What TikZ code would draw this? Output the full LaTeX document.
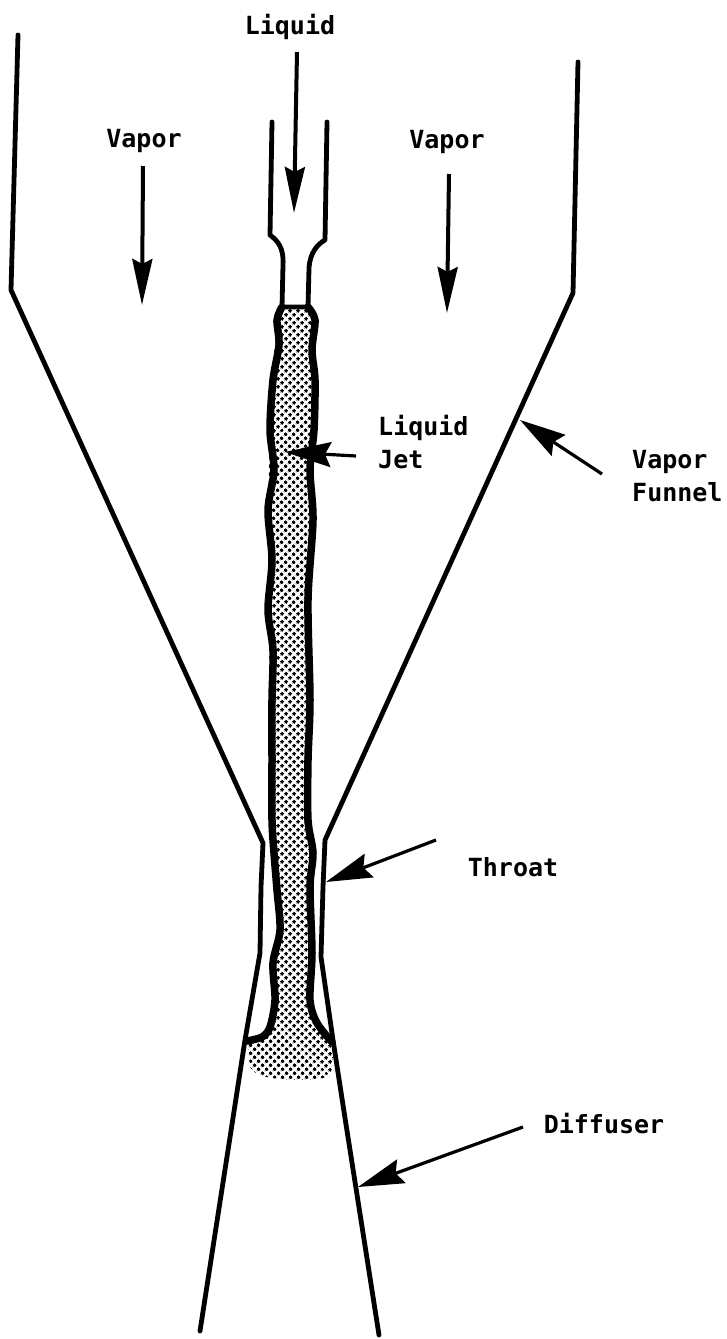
\documentclass[tikz,border=0pt]{standalone}
\usepackage{fontspec}
\setmonofont{DejaVu Sans Mono}
\usetikzlibrary{arrows.meta,patterns.meta,positioning}

\begin{document}
\begin{tikzpicture}[x=1pt, y=-1pt,
    label_txt/.style={font=\ttfamily\bfseries\fontsize{25}{33}\selectfont, align=left, inner sep=0pt},
    wall/.style={draw, line width=4.8pt, line join=round, line cap=round},
    jet_edge/.style={draw, line width=7.5pt, line join=round, line cap=round},
    flow/.style={draw, line width=4pt, -{Stealth[length=46pt, width=20pt, inset=5pt]}},
    pointer/.style={draw, line width=3.2pt, -{Stealth[length=46pt, width=25pt, inset=6pt]}}]
    \useasboundingbox (0,0) rectangle (726,1339);

    % liquid jet
    \fill [pattern={Dots[distance=5.4pt, angle=45, radius=1.85pt]}, pattern color=black]
        (282,307) -- (277,320) -- (272,380) -- (270,430) -- (268,510) -- (268,610) -- (272,760) -- (274,853) -- (280,930)
        -- (273,963) -- (275,1000) -- (270,1027) -- (262,1037) -- (247,1040) -- (250,1067) .. controls (256,1078) and (280,1080) .. (300,1080)
        .. controls (315,1080) and (328,1078) .. (331,1075) -- (334,1050) -- (317,1023) -- (310,1000) -- (312,953) -- (310,887) -- (313,853)
        -- (308,820) -- (310,700) -- (308,600) -- (313,520) -- (314,430) -- (315,380) -- (312,350) -- (315,320) -- (308,307) -- cycle;
    \path [jet_edge] plot [smooth, tension=0.5] coordinates {(282,307) (277,320) (279,345) (273,380) (270,430) (274,470) (268,510) (272,560) (268,610) (273,650) (272,700) (272,760) (272,820) (274,853) (277,890) (280,930) (273,963) (275,1000) (270,1027) (262,1037) (247,1041)};
    \path [jet_edge] plot [smooth, tension=0.5] coordinates {(308,307) (315,320) (312,350) (315,380) (314,430) (310,470) (313,520) (308,600) (310,700) (308,760) (308,820) (313,853) (310,887) (312,953) (310,1000) (317,1023) (332,1042)};

    % funnel and diffuser
    \path [wall] (18,35) -- (11,290) -- (263,843) -- (261,887) -- (260,953) -- (245,1040) -- (233,1118) -- (200,1331);
    \path [wall] (578,62) -- (573,293) -- (325,840) -- (323,887) -- (321,957) -- (333,1040) -- (345,1118) -- (379,1335);

    % nozzle
    \path [wall] (272,122) -- (270,235) .. controls (278,241) and (284,248) .. (283,265) -- (282,307) -- (308,307) -- (309,268) .. controls (310,252) and (318,244) .. (325,240) -- (327,122);

    \node [label_txt] (liq) at (290,27) {Liquid};
    \node [label_txt] (vap_l) at (144,141) {Vapor};
    \node [label_txt] (vap_r) at (447,142) {Vapor};
    \node [label_txt, anchor=west] (jet) at (378,442) {Liquid\\Jet};
    \node [label_txt, anchor=west] (fun) at (632,476) {Vapor\\Funnel};
    \node [label_txt] (thr) at (513,867) {Throat};
    \node [label_txt] (dif) at (604,1124) {Diffuser};

    \coordinate (liq_end) at (294,213);
    \coordinate (vap_l_end) at (142,305);
    \coordinate (vap_r_end) at (447,313);
    \coordinate (jet_start) at (356,456);
    \coordinate (jet_end) at (285,452);
    \coordinate (fun_start) at (602,474);
    \coordinate (fun_end) at (520,420);
    \coordinate (thr_start) at (436,840);
    \coordinate (thr_end) at (326,882);
    \coordinate (dif_start) at (523,1127);
    \coordinate (dif_end) at (358,1187);

    \path [flow] (liq) ++(7,25) -- (liq_end);
    \path [flow] (vap_l) ++(-1,25) -- (vap_l_end);
    \path [flow] (vap_r) ++(2,32) -- (vap_r_end);
    \path [pointer] (jet_start) -- (jet_end);
    \path [pointer] (fun_start) -- (fun_end);
    \path [pointer] (thr_start) -- (thr_end);
    \path [pointer] (dif_start) -- (dif_end);
\end{tikzpicture}
\end{document}
